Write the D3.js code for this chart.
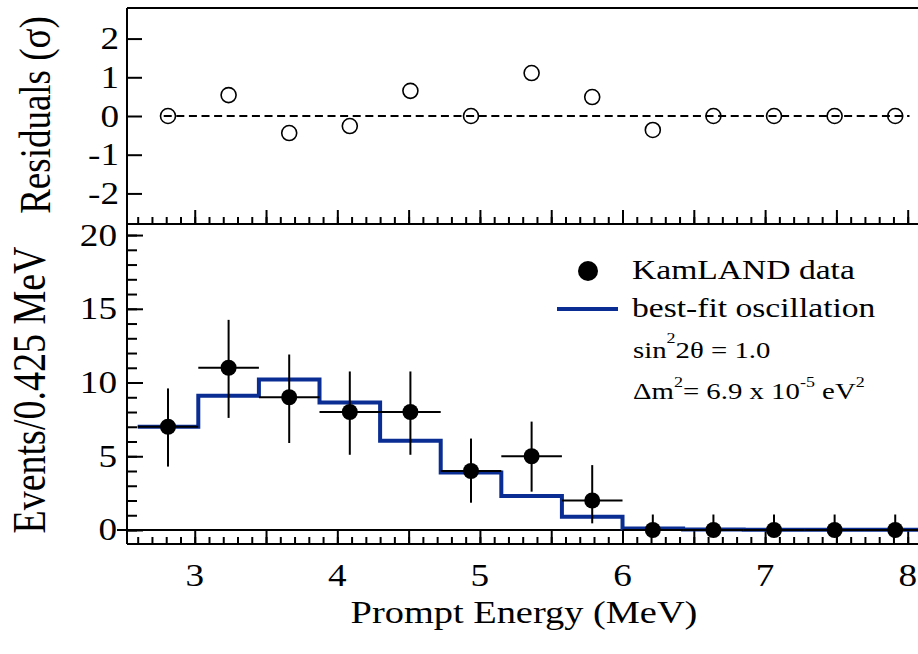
<!DOCTYPE html>
<html><head><meta charset="utf-8">
<script src="https://cdnjs.cloudflare.com/ajax/libs/d3/7.8.5/d3.min.js"></script>
<style>
body{margin:0;background:#fff}
svg{display:block}
text{font-family:"Liberation Serif","Times New Roman",serif;fill:#000}
</style>
</head><body>
<svg id="c" width="918" height="654"></svg>
<script>
// ---------- data ----------
const energies   = [2.8125, 3.2375, 3.6625, 4.0875, 4.5125, 4.9375, 5.3625, 5.7875, 6.2125, 6.6375, 7.0625, 7.4875, 7.9125];
const binWidth   = 0.425;
const counts     = [7, 11, 9, 8, 8, 4, 5, 2, 0, 0, 0, 0, 0];
const errUp      = [2.6, 3.25, 2.9, 2.75, 2.75, 2.2, 2.35, 2.4, 1.05, 1.05, 1.05, 1.05, 1.05];
const errDown    = [2.7, 3.4, 3.1, 2.9, 2.9, 2.15, 2.4, 1.55, 0, 0, 0, 0, 0];
const bestFit    = [7.0, 9.1, 10.2, 8.65, 6.05, 3.9, 2.3, 0.9, 0.1, 0.03, 0.02, 0.02, 0.01];
const residuals  = [0, 0.54, -0.44, -0.26, 0.65, 0, 1.11, 0.49, -0.36, 0, 0, 0, 0];
const xTickLabels   = [3, 4, 5, 6, 7, 8];
const resTickLabels = [-2, -1, 0, 1, 2];
const evtTickLabels = [0, 5, 10, 15, 20];

// ---------- layout ----------
const svg = d3.select("#c");
const SX = 1.2;            // horizontal glyph stretch seen in the reference
const L = 127, R = 918, T = 8, MID = 224, B = 544;
const BLUE = "#0a2d94";

const x  = d3.scaleLinear().domain([2.525, 8.075]).range([L, 918.4]);
const yR = d3.scaleLinear().domain([-2.79, 2.79]).range([MID, T]);
const yE = d3.scaleLinear().domain([-0.95, 20.75]).range([B, MID]);

function txt(px, py, str, size, anchor){
  return svg.append("text")
    .attr("transform", `translate(${px},${py}) scale(${SX},1)`)
    .attr("text-anchor", anchor || "start")
    .attr("font-size", size)
    .text(str);
}
function line(x1,y1,x2,y2,w){
  return svg.append("line").attr("x1",x1).attr("y1",y1).attr("x2",x2).attr("y2",y2)
    .attr("stroke","#000").attr("stroke-width",w||2);
}

// ---------- ticks via d3 axes ----------
const minorX = d3.range(2.6, 8.15, 0.1).map(v => +v.toFixed(2));
const majorX = d3.range(3, 8.05, 0.5);
function styleAxis(g){
  g.select(".domain").remove();
  g.selectAll(".tick line").attr("stroke","#000").attr("stroke-width",2);
}
[[MID],[B]].forEach(([yy])=>{
  svg.append("g").attr("transform",`translate(0,${yy})`)
    .call(d3.axisBottom(x).tickValues(minorX).tickSize(-7).tickFormat("")).call(styleAxis);
  svg.append("g").attr("transform",`translate(0,${yy})`)
    .call(d3.axisBottom(x).tickValues(majorX).tickSize(yy===B ? -(B - yE(0)) : -14).tickFormat("")).call(styleAxis);
});
svg.append("g").attr("transform",`translate(${L},0)`)
  .call(d3.axisLeft(yR).tickValues(resTickLabels).tickSize(-15).tickFormat("")).call(styleAxis);
svg.append("g").attr("transform",`translate(${L},0)`)
  .call(d3.axisLeft(yE).tickValues(d3.range(0,21,1)).tickSize(-10).tickFormat("")).call(styleAxis);
svg.append("g").attr("transform",`translate(${L},0)`)
  .call(d3.axisLeft(yE).tickValues(evtTickLabels).tickSize(-16).tickFormat("")).call(styleAxis);

// ---------- frame ----------
line(L, T, R, T);
line(L, T, L, B);
line(L, MID, R, MID);
line(L, B, R, B);
line(117, yE(0), R, yE(0));

// ---------- tick labels ----------
resTickLabels.forEach(v => txt(119, yR(v)+10.5, String(v), 31, "end"));
evtTickLabels.forEach(v => txt(117, yE(v)+10.5, String(v), 31, "end"));
xTickLabels.forEach(v => txt(x(v), 586, String(v), 31, "middle"));

// ---------- axis titles ----------
txt(524, 623, "Prompt Energy (MeV)", 32, "middle");
svg.append("text").attr("transform",`translate(50,115) rotate(-90) scale(1,${SX})`)
  .attr("text-anchor","middle").attr("font-size",37).text("Residuals (σ)");
svg.append("text").attr("transform",`translate(45,390) rotate(-90) scale(1,${SX})`)
  .attr("text-anchor","middle").attr("font-size",38).text("Events/0.425 MeV");

// ---------- residual panel ----------
svg.append("line")
  .attr("x1", x(energies[0]-0.03)).attr("x2", x(energies[energies.length-1]+0.1))
  .attr("y1", yR(0)).attr("y2", yR(0))
  .attr("stroke","#000").attr("stroke-width",2).attr("stroke-dasharray","8,4.6");
svg.append("g").selectAll("circle").data(residuals).join("circle")
  .attr("cx",(d,i)=>x(energies[i])).attr("cy",d=>yR(d)).attr("r",7.5)
  .attr("fill","none").attr("stroke","#000").attr("stroke-width",1.6);

// ---------- spectrum panel ----------
const stepPts = bestFit.map((v,i)=>[energies[i]-binWidth/2, v]);
stepPts.push([energies[energies.length-1]+binWidth/2, bestFit[bestFit.length-1]]);
svg.append("path").datum(stepPts)
  .attr("d", d3.line().x(d=>x(d[0])).y(d=>yE(d[1])).curve(d3.curveStepAfter))
  .attr("fill","none").attr("stroke",BLUE).attr("stroke-width",4);

const pts = svg.append("g");
counts.forEach((c,i)=>{
  const e = energies[i];
  pts.append("line").attr("x1",x(e)).attr("x2",x(e))
    .attr("y1",yE(c-errDown[i])).attr("y2",yE(c+errUp[i]))
    .attr("stroke","#000").attr("stroke-width",2);
  pts.append("line").attr("x1",x(e-binWidth/2)).attr("x2",x(e+binWidth/2))
    .attr("y1",yE(c)).attr("y2",yE(c))
    .attr("stroke","#000").attr("stroke-width",2);
});
pts.selectAll("circle").data(counts).join("circle")
  .attr("cx",(d,i)=>x(energies[i])).attr("cy",d=>yE(d)).attr("r",8).attr("fill","#000");

// ---------- legend ----------
svg.append("circle").attr("cx",588).attr("cy",271).attr("r",10).attr("fill","#000");
txt(632, 279, "KamLAND data", 28);
svg.append("line").attr("x1",557).attr("x2",618).attr("y1",309).attr("y2",309)
  .attr("stroke",BLUE).attr("stroke-width",4);
txt(632, 317, "best-fit oscillation", 28);

const t1 = txt(633, 358, "", 24);
t1.append("tspan").text("sin");
t1.append("tspan").attr("dy",-15).attr("font-size",15).text("2");
t1.append("tspan").attr("dy",15).text("2θ = 1.0");

const t2 = txt(633, 399, "", 24);
t2.append("tspan").text("Δm");
t2.append("tspan").attr("dy",-12).attr("font-size",15).text("2");
t2.append("tspan").attr("dy",12).text("= 6.9 x 10");
t2.append("tspan").attr("dy",-12).attr("font-size",15).text("-5");
t2.append("tspan").attr("dy",12).text(" eV");
t2.append("tspan").attr("dy",-12).attr("font-size",15).text("2");
</script>
</body></html>
